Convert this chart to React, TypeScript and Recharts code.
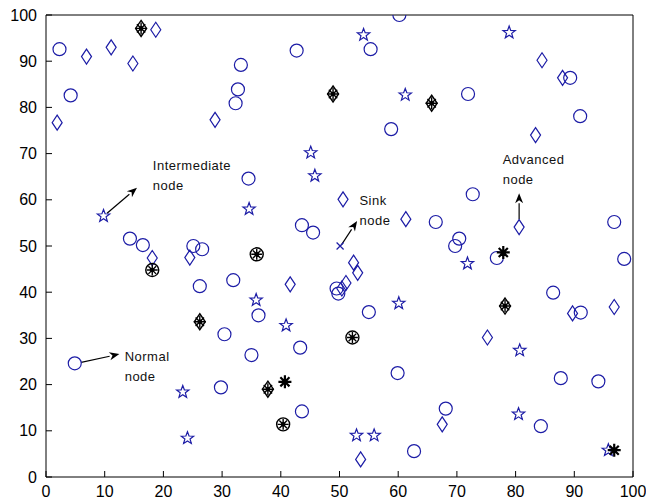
import React from 'react';
import { ScatterChart, Scatter, XAxis, YAxis, ReferenceLine, ReferenceDot } from 'recharts';

// node positions (x, y in field units 0..100)
const normalNodes = [
  [2.3, 92.6], [4.2, 82.6], [4.9, 24.6], [14.3, 51.6], [16.5, 50.2], [25.1, 50.0], [26.6, 49.3],
  [26.2, 41.3], [32.7, 83.9], [32.3, 80.9], [33.2, 89.2], [42.7, 92.3], [55.3, 92.6], [60.2, 100],
  [58.8, 75.3], [71.9, 82.9], [89.3, 86.4], [91.0, 78.1], [34.5, 64.6], [43.6, 54.5], [45.5, 52.9],
  [31.9, 42.6], [49.5, 40.8], [49.8, 39.7], [55.0, 35.7], [36.2, 35.0], [30.4, 30.9], [35.0, 26.4],
  [43.3, 28.0], [59.9, 22.5], [29.8, 19.4], [43.6, 14.2], [62.7, 5.6], [72.7, 61.2], [66.4, 55.2],
  [96.8, 55.2], [70.4, 51.6], [69.7, 50.0], [76.8, 47.4], [98.5, 47.2], [86.4, 39.9], [91.1, 35.6],
  [87.7, 21.4], [94.1, 20.7], [68.1, 14.8], [84.3, 11.0],
];

const advancedNodes = [
  [1.9, 76.7], [6.9, 91.0], [11.1, 93.0], [14.8, 89.5], [18.7, 96.8], [28.8, 77.3], [84.5, 90.2],
  [88.0, 86.4], [83.4, 74.0], [18.1, 47.4], [24.5, 47.5], [50.6, 60.1], [61.3, 55.8], [41.6, 41.7],
  [52.4, 46.4], [53.1, 44.2], [51.1, 42.0], [50.4, 40.8], [80.6, 54.1], [89.7, 35.4], [96.8, 36.8],
  [75.2, 30.2], [67.5, 11.4], [53.6, 3.8],
];

const intermediateNodes = [
  [9.8, 56.5], [54.1, 95.7], [61.2, 82.7], [45.1, 70.2], [78.9, 96.2], [45.8, 65.2], [34.6, 58.0],
  [60.1, 37.6], [35.8, 38.3], [40.9, 32.8], [71.8, 46.2], [23.3, 18.4], [24.1, 8.4], [52.9, 9.0],
  [55.9, 9.0], [80.7, 27.4], [80.5, 13.6], [95.8, 5.8],
];

const sinkNodes = [[50.1, 50.0]];

const headStar = [[40.7, 20.6], [77.9, 48.6], [96.8, 5.8]];
const headCircle = [[18.1, 44.8], [35.9, 48.2], [52.2, 30.2], [40.4, 11.4]];
const headDiamond = [[16.2, 97.1], [48.9, 82.9], [65.7, 80.9], [26.2, 33.6], [78.2, 37.0], [37.8, 19.0]];

const ticks = [0, 10, 20, 30, 40, 50, 60, 70, 80, 90, 100];

// annotation: [label line 1, label line 2, text x, text y, arrow from x, y, arrow to x, y]
const notes: [string, string, number, number, number, number, number, number][] = [
  ['Intermediate', 'node', 18.2, 67.5, 10.4, 57.1, 15.5, 62.6],
  ['Sink', 'node', 53.4, 59.9, 50.3, 50.2, 53.0, 55.4],
  ['Advanced', 'node', 77.8, 68.8, 80.6, 55.8, 80.6, 61.4],
  ['Normal', 'node', 13.4, 26.1, 6.0, 24.8, 12.5, 26.6],
];

const toPts = (arr: number[][]) => arr.map(([x, y]) => ({ x, y }));

const BLUE = '#1c1ca6';

const Circle = ({ cx, cy }: any) => <circle cx={cx} cy={cy} r={6.5} fill="none" stroke={BLUE} strokeWidth={1.2} />;

const Diamond = ({ cx, cy }: any) => (
  <polygon points={`${cx},${cy - 7.5} ${cx + 5},${cy} ${cx},${cy + 7.5} ${cx - 5},${cy}`} fill="none" stroke={BLUE} strokeWidth={1.2} />
);

const Star = ({ cx, cy }: any) => {
  const pts: string[] = [];
  for (let i = 0; i < 10; i++) {
    const r = i % 2 === 0 ? 6.5 : 2.7;
    const a = -Math.PI / 2 + (i * Math.PI) / 5;
    pts.push(`${cx + r * Math.cos(a)},${cy + r * Math.sin(a)}`);
  }
  return <polygon points={pts.join(' ')} fill="none" stroke={BLUE} strokeWidth={1.2} />;
};

const Cross = ({ cx, cy }: any) => (
  <path d={`M${cx - 3.5},${cy - 3.5}L${cx + 3.5},${cy + 3.5}M${cx - 3.5},${cy + 3.5}L${cx + 3.5},${cy - 3.5}`} stroke={BLUE} strokeWidth={1.2} />
);

const asterisk = (cx: number, cy: number, r: number, w: number) => (
  <path
    d={`M${cx - r},${cy}L${cx + r},${cy}M${cx},${cy - r}L${cx},${cy + r}M${cx - r * 0.7},${cy - r * 0.7}L${cx + r * 0.7},${cy + r * 0.7}M${cx - r * 0.7},${cy + r * 0.7}L${cx + r * 0.7},${cy - r * 0.7}`}
    stroke="#000"
    strokeWidth={w}
  />
);

const BlackStar = ({ cx, cy }: any) => <g>{asterisk(cx, cy, 6.5, 2.2)}</g>;

const BlackCircle = ({ cx, cy }: any) => (
  <g>
    <circle cx={cx} cy={cy} r={6.5} fill="none" stroke="#000" strokeWidth={1.4} />
    {asterisk(cx, cy, 5.5, 1.4)}
    <circle cx={cx} cy={cy} r={2.3} fill="#000" />
  </g>
);

const BlackDiamond = ({ cx, cy }: any) => (
  <g>
    <polygon points={`${cx},${cy - 8} ${cx + 5.5},${cy} ${cx},${cy + 8} ${cx - 5.5},${cy}`} fill="none" stroke="#000" strokeWidth={1.4} />
    {asterisk(cx, cy, 6, 1.4)}
    <circle cx={cx} cy={cy} r={2.3} fill="#000" />
  </g>
);

const Arrow = (props: any) => {
  const { x1, y1, x2, y2 } = props;
  const a = Math.atan2(y2 - y1, x2 - x1);
  const len = 10;
  const hw = 4;
  const bx = x2 - len * Math.cos(a);
  const by = y2 - len * Math.sin(a);
  const px = -Math.sin(a) * hw;
  const py = Math.cos(a) * hw;
  return (
    <g>
      <line x1={x1} y1={y1} x2={bx} y2={by} stroke="#000" strokeWidth={1.2} />
      <polygon points={`${x2},${y2} ${bx + px},${by + py} ${bx + len * 0.3 * Math.cos(a)},${by + len * 0.3 * Math.sin(a)} ${bx - px},${by - py}`} fill="#000" />
    </g>
  );
};

const noteLabel = (l1: string, l2: string) => ({ cx, cy }: any) => (
  <text x={cx} y={cy} fontFamily="'Liberation Sans', Arial, sans-serif" fontSize={13} letterSpacing={0.5} fill="#111">
    <tspan x={cx} dy={4.5}>{l1}</tspan>
    <tspan x={cx} dy={20}>{l2}</tspan>
  </text>
);

const tickStyle = { fontSize: 16, fill: '#000', fontFamily: "'Liberation Sans', Arial, sans-serif" };

export default function App() {
  return (
    <div style={{ position: 'absolute', left: 0, top: 0, background: '#fff' }}>
      <ScatterChart width={646} height={501} margin={{ top: 0, right: 0, bottom: 0, left: 0 }}>
        <XAxis
          type="number"
          dataKey="x"
          domain={[0, 100]}
          ticks={ticks}
          interval={0}
          height={24}
          tickSize={-6}
          tickMargin={15}
          stroke="#000"
          tick={tickStyle}
          allowDataOverflow
        />
        <XAxis
          xAxisId="top"
          orientation="top"
          type="number"
          dataKey="x"
          domain={[0, 100]}
          ticks={ticks}
          interval={0}
          height={15}
          tickSize={-6}
          tick={false}
          stroke="#000"
        />
        <YAxis
          type="number"
          dataKey="y"
          domain={[0, 100]}
          ticks={ticks}
          interval={0}
          width={46}
          tickSize={-6}
          tickMargin={15}
          stroke="#000"
          tick={tickStyle}
          allowDataOverflow
        />
        <YAxis
          yAxisId="right"
          orientation="right"
          type="number"
          dataKey="y"
          domain={[0, 100]}
          ticks={ticks}
          interval={0}
          width={13}
          tickSize={-6}
          tick={false}
          stroke="#000"
        />
        <Scatter data={toPts(normalNodes)} shape={Circle} isAnimationActive={false} />
        <Scatter data={toPts(advancedNodes)} shape={Diamond} isAnimationActive={false} />
        <Scatter data={toPts(intermediateNodes)} shape={Star} isAnimationActive={false} />
        <Scatter data={toPts(sinkNodes)} shape={Cross} isAnimationActive={false} />
        <Scatter data={toPts(headDiamond)} shape={BlackDiamond} isAnimationActive={false} />
        <Scatter data={toPts(headCircle)} shape={BlackCircle} isAnimationActive={false} />
        <Scatter data={toPts(headStar)} shape={BlackStar} isAnimationActive={false} />
        {notes.map(([l1, l2, tx, ty, ax, ay, bx, by]) => (
          <ReferenceLine
            key={`arrow-${l1}`}
            segment={[{ x: ax, y: ay }, { x: bx, y: by }]}
            shape={Arrow}
            ifOverflow="visible"
          />
        ))}
        {notes.map(([l1, l2, tx, ty]) => (
          <ReferenceDot key={`note-${l1}`} x={tx} y={ty} r={0} shape={noteLabel(l1, l2)} ifOverflow="visible" />
        ))}
      </ScatterChart>
    </div>
  );
}
